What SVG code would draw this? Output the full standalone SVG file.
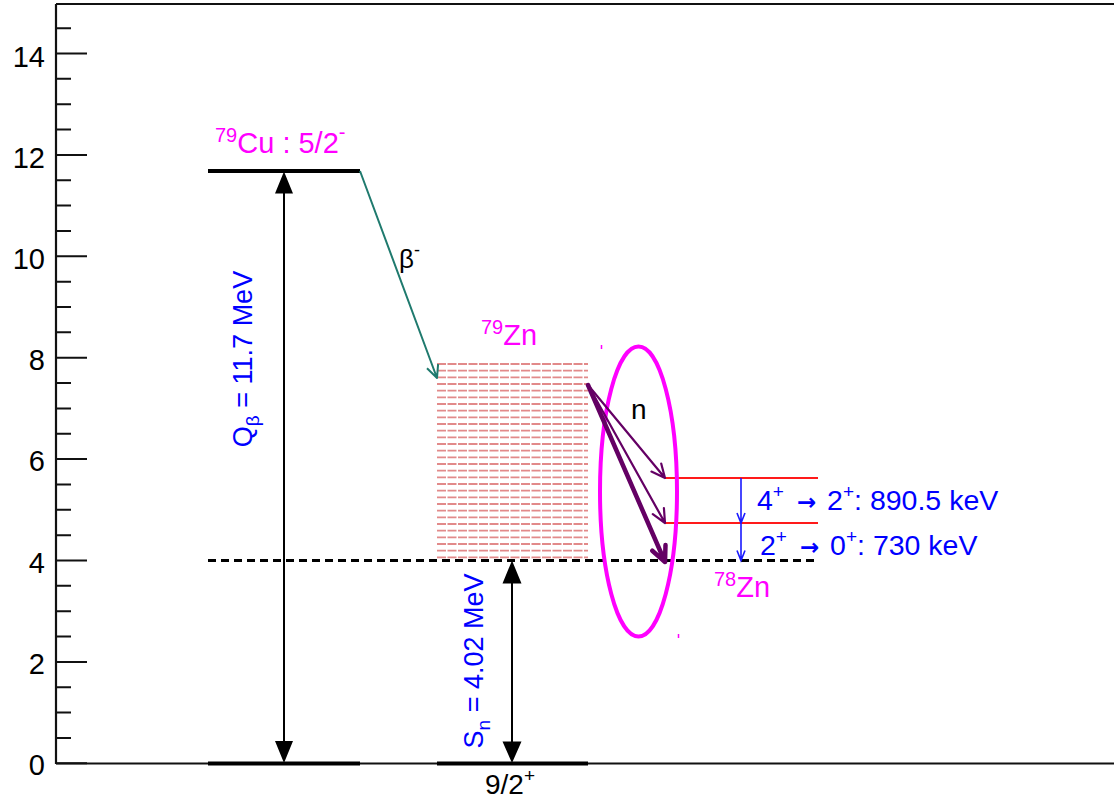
<svg xmlns="http://www.w3.org/2000/svg" width="1114" height="799" viewBox="0 0 1114 799">
<style>
text{font-family:"Liberation Sans",Arial,sans-serif}
.ax{font-size:29px;fill:#000;text-anchor:end}
.mag{fill:#ff00ff;font-size:29px}
.blu{fill:#0000ff;font-size:27px}
.lt{font-size:28.5px}
.arr{font-family:"DejaVu Sans",sans-serif;font-weight:bold}
.lvl{stroke:#000;stroke-width:4;fill:none}
.zn{stroke:#d65a5a;stroke-width:1.8;stroke-dasharray:9 1.5;opacity:0.7}
.nl{stroke:#640064;fill:none;stroke-linecap:round;stroke-linejoin:round}
</style>
<rect width="1114" height="799" fill="#fff"/>
<g id="axis" stroke="#111" fill="none">
<path d="M56 4V764M56 4H1114M56 763.5H1114" stroke-width="2.2"/>
<path stroke-width="2" d="M56 763.3h31M56 737.95h15M56 712.6h15M56 687.25h15M56 661.9h31M56 636.55h15M56 611.2h15M56 585.85h15M56 560.5h31M56 535.15h15M56 509.8h15M56 484.45h15M56 459.1h31M56 433.75h15M56 408.4h15M56 383.05h15M56 357.7h31M56 332.35h15M56 307h15M56 281.65h15M56 256.3h31M56 230.95h15M56 205.6h15M56 180.25h15M56 154.9h31M56 129.55h15M56 104.2h15M56 78.85h15M56 53.5h31M56 28.15h15"/>
</g>
<g id="axis-labels">
<text class="ax" x="45" y="775">0</text>
<text class="ax" x="45" y="674">2</text>
<text class="ax" x="45" y="572.5">4</text>
<text class="ax" x="45" y="471">6</text>
<text class="ax" x="45" y="370">8</text>
<text class="ax" x="45" y="269">10</text>
<text class="ax" x="45" y="167.5">12</text>
<text class="ax" x="45" y="66.5">14</text>
</g>
<g id="cu79">
<path class="lvl" d="M208 171H360"/>
<text class="mag" x="215" y="153"><tspan font-size="20" dy="-11">79</tspan><tspan dy="11">Cu : 5/2</tspan><tspan font-size="20" dy="-14">-</tspan></text>
</g>
<g id="ground">
<path class="lvl" d="M208 763.5H360M437 763.5H588"/>
<text x="485" y="794" font-size="28">9/2<tspan font-size="19" dy="-12">+</tspan></text>
</g>
<g id="zn79">
<text class="mag" x="481" y="345"><tspan font-size="20" dy="-11">79</tspan><tspan dy="11">Zn</tspan></text>
<g class="zn">
<path d="M437 364H588M437 370.67H588M437 377.33H588M437 384H588M437 390.67H588M437 397.33H588M437 404H588M437 410.67H588M437 417.33H588M437 424H588M437 430.67H588M437 437.33H588M437 444H588M437 450.67H588M437 457.33H588M437 464H588M437 470.67H588M437 477.33H588M437 484H588M437 490.67H588M437 497.33H588M437 504H588M437 510.67H588M437 517.33H588M437 524H588M437 530.67H588M437 537.33H588M437 544H588M437 550.67H588M437 557.33H588"/>
</g>
</g>
<g id="sn-line">
<path d="M208 560.5H818" stroke="#000" stroke-width="3" stroke-dasharray="8 5" fill="none"/>
</g>
<g id="zn78">
<path d="M665 478H818M665 523H818" stroke="#ff1a1a" stroke-width="2" fill="none"/>
<text class="mag" x="714" y="597"><tspan font-size="20" dy="-11">78</tspan><tspan dy="11">Zn</tspan></text>
<text class="blu lt" x="757" y="510">4<tspan font-size="19" dy="-12">+</tspan><tspan dy="12" dx="5"> </tspan><tspan class="arr" font-size="23">→</tspan><tspan dx="3"> 2</tspan><tspan font-size="19" dy="-12">+</tspan><tspan dy="12">: 890.5 keV</tspan></text>
<text class="blu lt" x="760" y="555">2<tspan font-size="19" dy="-12">+</tspan><tspan dy="12" dx="5"> </tspan><tspan class="arr" font-size="23">→</tspan><tspan dx="3"> 0</tspan><tspan font-size="19" dy="-12">+</tspan><tspan dy="12">: 730 keV</tspan></text>
</g>
<g id="ellipse">
<ellipse cx="638.5" cy="491.5" rx="38.5" ry="145" fill="none" stroke="#ff00ff" stroke-width="4"/>
<path d="M601.5 345v4M678.5 634v4" stroke="#ff00ff" stroke-width="1.5"/>
<text x="631" y="419" font-size="28">n</text>
</g>
<g id="connectors">
<g id="beta">
<path d="M360 171L437 378M438.1 364.1L437 378L427 368.2" stroke="#1f7a6e" stroke-width="2" fill="none" stroke-linejoin="round"/>
<text x="399" y="268" font-size="26">β<tspan font-size="18" dy="-12">-</tspan></text>
</g>
<g id="q-arrow">
<path d="M284 190V745" stroke="#000" stroke-width="2"/>
<path d="M284 171.5L293 193.5H275Z M284 763L293 741H275Z" fill="#000"/>
<text class="blu" transform="translate(252,359) rotate(-90)" text-anchor="middle">Q<tspan font-size="19" dy="7">β</tspan><tspan dy="-7"> = 11.7 MeV</tspan></text>
</g>
<g id="sn-arrow">
<path d="M512 580V745" stroke="#000" stroke-width="2"/>
<path d="M512 560.5L521.5 583.5H502.5Z M512 763L521.5 741.5H502.5Z" fill="#000"/>
<text class="blu" transform="translate(483,661) rotate(-90)" text-anchor="middle">S<tspan font-size="19" dy="7">n</tspan><tspan dy="-7"> = 4.02 MeV</tspan></text>
</g>
<g id="gamma" stroke="#1a1aff" stroke-width="1.6" fill="none">
<path d="M741 478V560.5M737 513L741 523L745 513M737 550.5L741 560.5L745 550.5"/>
</g>
<g id="neutrons">
<path class="nl" stroke-width="2.2" d="M588 385L665 478M661.2 463.5L665 478L651.4 471.6"/>
<path class="nl" stroke-width="2.2" d="M588 385L665 523M663.9 508L665 523L652.8 514.2"/>
<path class="nl" stroke-width="4.5" d="M588 385L665 562M665.5 545L665 562L652.3 550.7"/>
</g>
</g>
</svg>
